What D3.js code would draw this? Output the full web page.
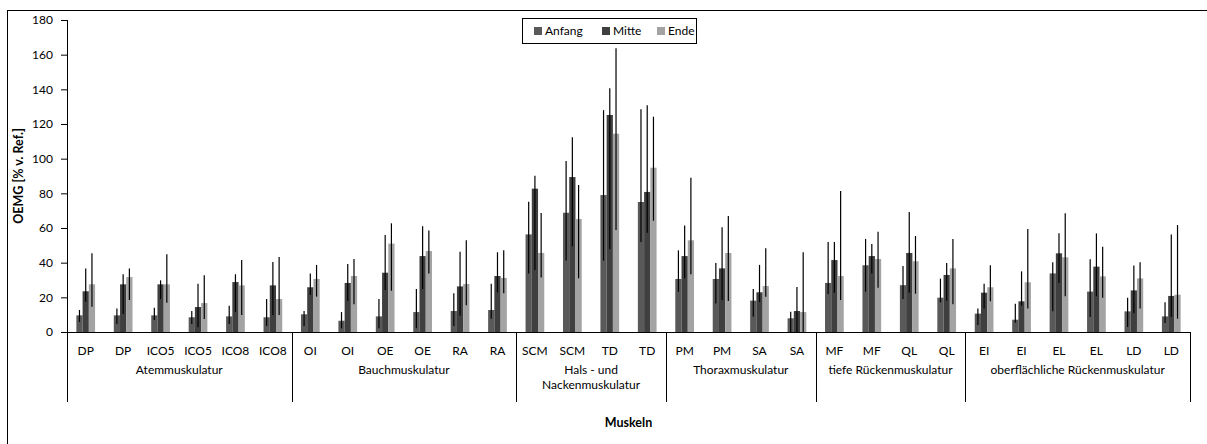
<!DOCTYPE html>
<html>
<head>
<meta charset="utf-8">
<script src="https://cdn.jsdelivr.net/npm/d3@7"></script>
<style>
  body { margin: 0; background: #fff; }
  svg { font-family: Lato, "Noto Sans", sans-serif; }
  .tick-label { font-size: 12px; fill: #000; }
  .axis-title { font-size: 12.5px; font-weight: bold; fill: #000; }
</style>
</head>
<body>
<div id="wrapper"></div>
<script>
// muscles (one entry per bar cluster)
const categories = ["DP", "DP", "ICO5", "ICO5", "ICO8", "ICO8", "OI", "OI", "OE", "OE", "RA", "RA",
  "SCM", "SCM", "TD", "TD", "PM", "PM", "SA", "SA", "MF", "MF", "QL", "QL",
  "EI", "EI", "EL", "EL", "LD", "LD"];
// muscle groups and how many categories each spans
const groupNames = ["Atemmuskulatur", "Bauchmuskulatur", "Hals - und\nNackenmuskulatur",
  "Thoraxmuskulatur", "tiefe Rückenmuskulatur", "oberflächliche Rückenmuskulatur"];
const groupCounts = [6, 6, 4, 4, 4, 6];

const seriesNames = ["Anfang", "Mitte", "Ende"];

const anfang = [9.6, 9.6, 9.6, 8.5, 9, 8.5, 10.2, 6.5, 9, 11.5, 12.1, 12.7, 56.3, 68.8, 79, 75,
  30.6, 30.6, 18.1, 7.9, 28.3, 38.5, 27, 19.8, 10.6, 7.1, 33.8, 23.3, 11.9, 9];
const anfangLow = [5.8, 4.6, 6.9, 4.6, 4.6, 3.5, 3.5, 2.1, 2.1, 2.1, 3.5, 7.7, 33.8, 41.2, 41.2, 51.9,
  23.2, 16.5, 8.8, 0, 21.9, 23.3, 19, 17.1, 4, 5.4, 11.9, 8.7, 2.9, 5.2];
const anfangHigh = [12.7, 13.5, 14, 12.1, 15.2, 19, 12.1, 11.5, 19, 24.8, 22.3, 27.9, 75.2, 98.7, 128, 128.5,
  47.1, 39.8, 24.8, 11.7, 51.9, 53.7, 38.1, 30.8, 13.5, 16.3, 40.2, 41.9, 19.8, 17.1];

const mitte = [23.5, 27.5, 27.5, 14.4, 28.8, 26.9, 25.8, 28.3, 34.2, 43.8, 26.3, 32.3, 82.7, 89.4, 125.2, 80.8,
  43.8, 36.7, 22.9, 12.1, 41.5, 43.8, 45.6, 32.9, 22.7, 17.7, 45.4, 37.7, 24, 20.8];
const mitteLow = [17.5, 10.4, 19, 2.7, 11.5, 9.8, 21.3, 17.9, 24.2, 24.8, 9.4, 22.9, 35.8, 49.4, 47.7, 57.3,
  31, 18.5, 17.3, 0, 22.7, 33.8, 22.7, 18.1, 13.5, 15.2, 28.3, 20.6, 10.8, 8.7];
const mitteHigh = [36.7, 33.3, 29.8, 27.9, 33.3, 40.4, 33.8, 39.2, 56, 61, 46.3, 46, 90.2, 112.3, 140.6, 130.8,
  61.5, 60.4, 38.7, 26, 51.9, 50.8, 69.2, 39.8, 27.9, 35, 56.9, 56.9, 38.3, 56.2];

const ende = [27.5, 31.7, 27.5, 16.7, 26.9, 19, 30.6, 32.3, 51, 46.7, 27.7, 31.2, 45.6, 65.2, 114.4, 94.8,
  52.9, 45.6, 26.5, 11.5, 32.3, 42.1, 40.8, 36.7, 25.8, 28.7, 43.1, 32.1, 30.9, 21.5];
const endeLow = [14.6, 18.5, 16.9, 7.5, 9.8, 9.8, 20.4, 16, 23.8, 33.8, 15.4, 22.3, 31.5, 31, 58.8, 64.2,
  33.3, 17.9, 20.4, 0, 18.5, 25.6, 22.1, 16, 17.7, 13.5, 20.6, 19.8, 13.5, 7.7];
const endeHigh = [45.4, 36.7, 44.8, 32.7, 41.5, 43.3, 38.7, 42.1, 62.7, 58.5, 53, 47.1, 68.7, 84.8, 163.7, 124.2,
  89, 66.9, 48.3, 46, 81.3, 57.9, 55.4, 53.7, 38.5, 59.4, 68.5, 49.2, 40.2, 61.7];

const yTicks = [0, 20, 40, 60, 80, 100, 120, 140, 160, 180];

function drawChart() {
  const dimensions = {
    width: 1207,
    height: 444,
    margin: { top: 20, right: 17, bottom: 112, left: 67 },
  };
  dimensions.boundedWidth = dimensions.width - dimensions.margin.left - dimensions.margin.right;
  dimensions.boundedHeight = dimensions.height - dimensions.margin.top - dimensions.margin.bottom;

  const seriesValues = [anfang, mitte, ende];
  const seriesLow = [anfangLow, mitteLow, endeLow];
  const seriesHigh = [anfangHigh, mitteHigh, endeHigh];
  const colors = ["#595959", "#3f3f3f", "#a3a3a3"];

  const rows = [];
  categories.forEach((c, i) => {
    seriesNames.forEach((s, j) => {
      rows.push({
        index: i, series: s, value: seriesValues[j][i],
        low: seriesLow[j][i], high: seriesHigh[j][i], color: colors[j],
      });
    });
  });

  const wrapper = d3.select("#wrapper").append("svg")
    .attr("width", dimensions.width)
    .attr("height", dimensions.height);

  // outer chart frame (right and bottom edges fall outside the picture)
  wrapper.append("rect")
    .attr("x", 7.5).attr("y", 10.5)
    .attr("width", 1215).attr("height", 450)
    .attr("fill", "none").attr("stroke", "#000").attr("stroke-width", 1);

  const bounds = wrapper.append("g")
    .attr("transform", `translate(${dimensions.margin.left},${dimensions.margin.top})`);

  // scales
  const xScale = d3.scaleBand()
    .domain(d3.range(categories.length))
    .range([0, dimensions.boundedWidth])
    .padding(0);

  const clusterWidth = xScale.bandwidth() / 2;
  const seriesScale = d3.scaleBand()
    .domain(seriesNames)
    .range([xScale.bandwidth() / 4, xScale.bandwidth() / 4 + clusterWidth]);

  const yScale = d3.scaleLinear()
    .domain([0, 180])
    .range([dimensions.boundedHeight, 0]);

  // y axis
  const yAxis = d3.axisLeft(yScale).tickValues(yTicks).tickSize(6).tickPadding(8);
  const yAxisGroup = bounds.append("g").call(yAxis);
  yAxisGroup.select(".domain").attr("stroke", "#000").attr("d", `M0.5,${yScale(180)}V${yScale(0)}`);
  yAxisGroup.selectAll(".tick line").attr("stroke", "#000");
  yAxisGroup.selectAll(".tick text")
    .attr("class", "tick-label")
    .style("font-family", "Lato, 'Noto Sans', sans-serif")
    .style("font-size", "12px");

  bounds.append("text")
    .attr("class", "axis-title")
    .attr("transform", `translate(${20 - dimensions.margin.left},${dimensions.boundedHeight / 2}) rotate(-90)`)
    .attr("text-anchor", "middle")
    .attr("dominant-baseline", "middle")
    .text("OEMG [% v. Ref.]");

  // bars
  bounds.append("g").selectAll("rect")
    .data(rows)
    .join("rect")
    .attr("x", (d) => xScale(d.index) + seriesScale(d.series))
    .attr("y", (d) => yScale(d.value))
    .attr("width", seriesScale.bandwidth())
    .attr("height", (d) => yScale(0) - yScale(d.value))
    .attr("fill", (d) => d.color);

  // error bars
  bounds.append("g").selectAll("line")
    .data(rows)
    .join("line")
    .attr("x1", (d) => xScale(d.index) + seriesScale(d.series) + seriesScale.bandwidth() / 2)
    .attr("x2", (d) => xScale(d.index) + seriesScale(d.series) + seriesScale.bandwidth() / 2)
    .attr("y1", (d) => yScale(d.low))
    .attr("y2", (d) => yScale(d.high))
    .attr("stroke", "#000")
    .attr("stroke-width", 1.2);

  // x axis line
  const xAxisGroup = bounds.append("g")
    .attr("transform", `translate(0,${dimensions.boundedHeight})`);
  xAxisGroup.append("line")
    .attr("x1", 0).attr("x2", dimensions.boundedWidth)
    .attr("y1", 0.5).attr("y2", 0.5)
    .attr("stroke", "#000");

  // category labels
  xAxisGroup.selectAll(".cat-label")
    .data(categories)
    .join("text")
    .attr("class", "tick-label")
    .attr("x", (d, i) => xScale(i) + xScale.bandwidth() / 2)
    .attr("y", 23)
    .attr("text-anchor", "middle")
    .text((d) => d);

  // group separators and labels
  const groupStarts = d3.cumsum([0, ...groupCounts]);
  groupStarts.forEach((start) => {
    const x = start < categories.length ? xScale(start) : dimensions.boundedWidth;
    xAxisGroup.append("line")
      .attr("x1", Math.round(x) + 0.5).attr("x2", Math.round(x) + 0.5)
      .attr("y1", 0).attr("y2", 70)
      .attr("stroke", "#000");
  });

  groupNames.forEach((name, gi) => {
    const x0 = xScale(groupStarts[gi]);
    const x1 = groupStarts[gi + 1] < categories.length ? xScale(groupStarts[gi + 1]) : dimensions.boundedWidth;
    const label = xAxisGroup.append("text")
      .attr("class", "tick-label")
      .attr("x", (x0 + x1) / 2)
      .attr("y", 42)
      .attr("text-anchor", "middle");
    name.split("\n").forEach((line, li) => {
      label.append("tspan")
        .attr("x", (x0 + x1) / 2)
        .attr("dy", li === 0 ? 0 : 14.5)
        .text(line);
    });
  });

  bounds.append("text")
    .attr("class", "axis-title")
    .attr("x", dimensions.boundedWidth / 2)
    .attr("y", dimensions.boundedHeight + 95)
    .attr("text-anchor", "middle")
    .text("Muskeln");

  // legend
  const legend = wrapper.append("g").attr("transform", "translate(522,18)");
  legend.append("rect")
    .attr("x", 0.5).attr("y", 0.5)
    .attr("width", 174).attr("height", 25)
    .attr("fill", "#fff").attr("stroke", "#000");
  const legendOffsets = [12, 80, 135];
  seriesNames.forEach((name, j) => {
    const item = legend.append("g").attr("transform", `translate(${legendOffsets[j]},9)`);
    item.append("rect").attr("width", 8).attr("height", 8).attr("fill", colors[j]);
    item.append("text")
      .attr("class", "tick-label")
      .attr("x", 11).attr("y", 8)
      .text(name);
  });
}

drawChart();
</script>
</body>
</html>
